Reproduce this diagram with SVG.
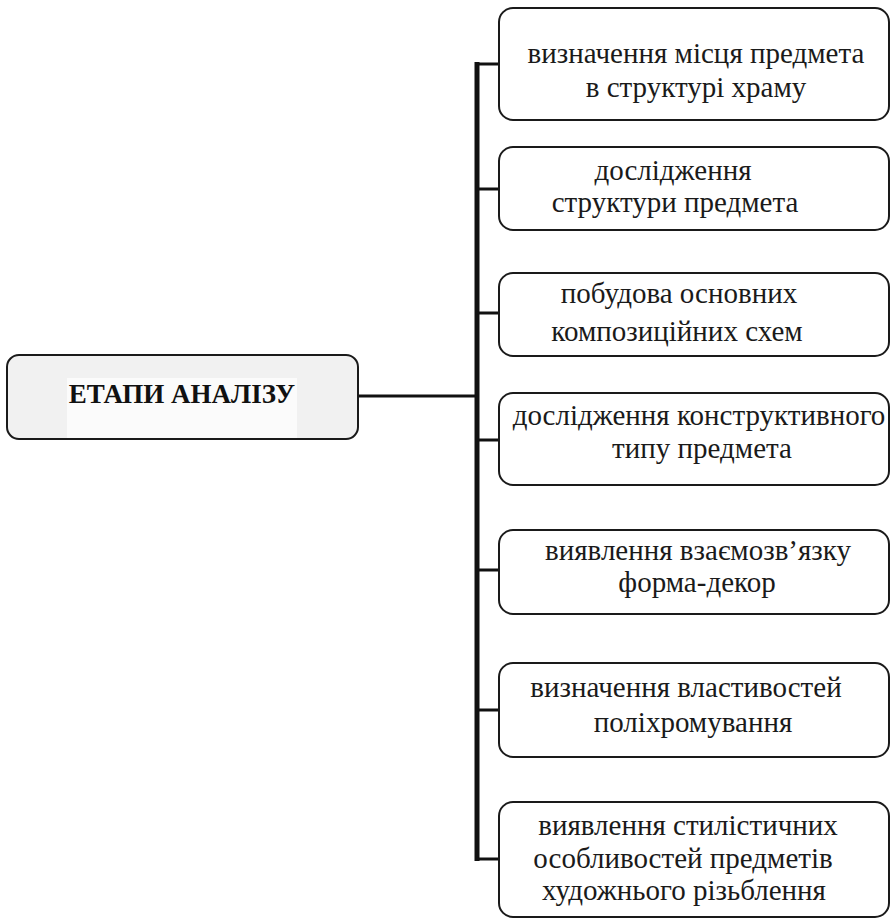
<svg xmlns="http://www.w3.org/2000/svg" width="891" height="918" viewBox="0 0 891 918">
<style>
.box{fill:#ffffff;stroke:#1a1a1a;stroke-width:2}
.root{fill:#f1f1f1;stroke:#1a1a1a;stroke-width:2}
.t{font-family:"Liberation Serif","Times New Roman",serif;font-size:29px;fill:#1a1a1a;text-anchor:middle}
.title{font-family:"Liberation Serif","Times New Roman",serif;font-size:27px;font-weight:bold;fill:#111;text-anchor:middle}
.c{stroke:#111;fill:none}
</style>
<rect width="891" height="918" fill="#ffffff"/>
<g id="connectors">
<line class="c" x1="358" y1="396" x2="477" y2="396" stroke-width="3"/>
<line class="c" x1="477" y1="62" x2="477" y2="861" stroke-width="5"/>
<line class="c" x1="477" y1="64" x2="499" y2="64" stroke-width="3"/>
<line class="c" x1="477" y1="189" x2="499" y2="189" stroke-width="3"/>
<line class="c" x1="477" y1="313" x2="499" y2="313" stroke-width="3"/>
<line class="c" x1="477" y1="440" x2="499" y2="440" stroke-width="3"/>
<line class="c" x1="477" y1="570" x2="499" y2="570" stroke-width="3"/>
<line class="c" x1="477" y1="710" x2="499" y2="710" stroke-width="3"/>
<line class="c" x1="477" y1="859" x2="499" y2="859" stroke-width="3"/>
</g>
<g id="root">
<rect class="root" x="7" y="355" width="351" height="84" rx="12"/>
<rect x="67" y="378" width="230" height="60" fill="#fbfbfb"/>
<text class="title" x="182" y="403">ЕТАПИ АНАЛІЗУ</text>
</g>
<g id="n1">
<rect class="box" x="499" y="8" width="390" height="112" rx="14"/>
<text class="t" x="696" y="63">визначення місця предмета</text>
<text class="t" x="696" y="97">в структурі храму</text>
</g>
<g id="n2">
<rect class="box" x="499" y="147" width="390" height="83" rx="14"/>
<text class="t" x="673" y="180">дослідження</text>
<text class="t" x="675" y="212">структури предмета</text>
</g>
<g id="n3">
<rect class="box" x="499" y="273" width="390" height="83" rx="14"/>
<text class="t" x="679" y="303">побудова основних</text>
<text class="t" x="677" y="341">композиційних схем</text>
</g>
<g id="n4">
<rect class="box" x="499" y="393" width="390" height="92" rx="14"/>
<text class="t" x="699" y="425">дослідження конструктивного</text>
<text class="t" x="702" y="458">типу предмета</text>
</g>
<g id="n5">
<rect class="box" x="499" y="530" width="390" height="84" rx="14"/>
<text class="t" x="698" y="560">виявлення взаємозв’язку</text>
<text class="t" x="697" y="592">форма-декор</text>
</g>
<g id="n6">
<rect class="box" x="499" y="663" width="390" height="94" rx="14"/>
<text class="t" x="686" y="697">визначення властивостей</text>
<text class="t" x="693" y="732">поліхромування</text>
</g>
<g id="n7">
<rect class="box" x="499" y="802" width="390" height="115" rx="14"/>
<text class="t" x="688" y="835">виявлення стилістичних</text>
<text class="t" x="683" y="868">особливостей предметів</text>
<text class="t" x="684" y="900">художнього різьблення</text>
</g>
</svg>
